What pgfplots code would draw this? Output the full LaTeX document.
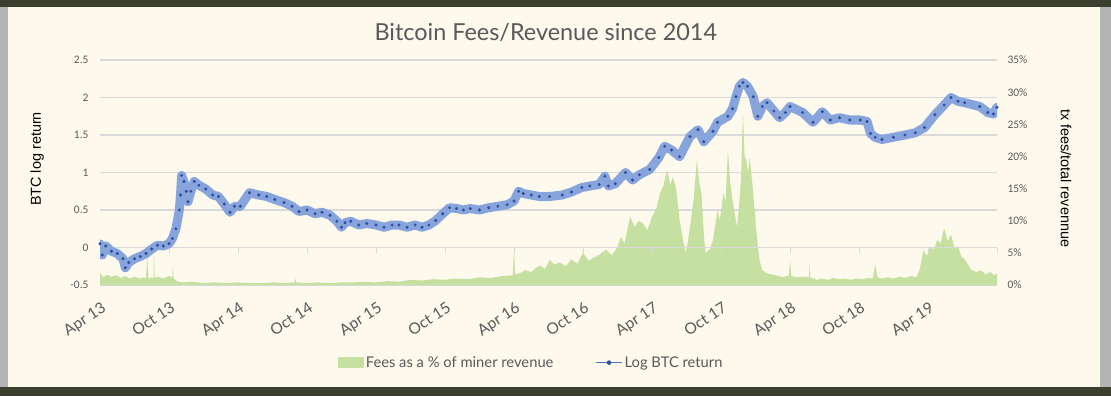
\documentclass[border=0pt]{standalone}
\usepackage{pgfplots}
\pgfplotsset{compat=1.18}
\usepackage{pgfplotstable}
\usepackage{fontspec}
\setmainfont{Carlito}
\newfontfamily\lato{Lato}
\newfontfamily\arial{Liberation Sans}
\definecolor{cream}{HTML}{FDF9EC}
\definecolor{olive}{HTML}{3A3F2E}
\definecolor{sidegray}{HTML}{B4B4B4}
\definecolor{gridgray}{HTML}{D9D9D9}
\definecolor{labgray}{HTML}{595959}
\definecolor{feegreen}{HTML}{C5E0A0}
\definecolor{bandblue}{HTML}{88A4DC}
\definecolor{darkblue}{HTML}{2E4D9C}
\definecolor{legblue}{HTML}{4472C4}

\pgfplotstableread{
m pct
0 1.9
0.3 1.2
0.6 1.6
1.0 1.3
1.4 1.5
1.8 1.1
2.2 1.4
2.6 1.0
3.0 1.3
3.4 1.0
3.8 1.2
4.0 1.0
4.1 4.7
4.2 1.0
4.5 1.2
4.65 1.0
4.7 5.0
4.75 1.1
5.0 1.3
5.5 1.0
6.0 1.4
6.3 1.2
6.35 3.4
6.4 1.0
6.7 0.6
7.2 0.4
8 0.5
9 0.3
10 0.4
11 0.3
12 0.4
13 0.3
14 0.3
15 0.4
16 0.3
16.95 0.4
17 1.1
17.05 0.4
18 0.3
19 0.4
20 0.3
21 0.4
22 0.4
23 0.5
24 0.4
25 0.6
26 0.5
27 0.8
28 0.7
29 0.9
30 0.8
31 1.0
32 0.9
33 1.2
34 1.1
35 1.4
35.9 1.5
36 5.7
36.1 1.6
36.6 1.9
37 2.3
37.5 2.0
38 2.8
38.3 3.0
38.7 2.5
39.1 3.9
39.5 3.2
40 3.5
40.5 2.9
41 4.0
41.5 3.3
42 5.0
42.5 3.8
43 4.3
43.5 4.8
44 5.5
44.5 4.6
45 5.9
45.3 7.5
45.6 6.5
46.1 10.6
46.5 9.0
46.8 10.0
47.2 9.6
47.6 8.5
48 10.6
48.4 12.0
48.7 14.3
49.0 15.5
49.3 17.9
49.6 15.5
49.8 16.8
50.1 15
50.4 10.1
50.7 7.0
50.9 5
51.1 6.5
51.3 9
51.6 13
51.9 19.4
52.1 16
52.3 14.3
52.5 8
52.65 5
53 5.5
53.3 7
53.7 11.7
53.9 10
54.2 14.3
54.4 13
54.6 21
54.8 16
55 13.2
55.2 11
55.4 9
55.6 13
55.75 16.8
55.9 26.8
56.05 20
56.2 19.4
56.35 17.5
56.5 19.9
56.65 17
56.8 14.3
57.0 10
57.2 5.9
57.4 3.5
57.6 2.3
58 1.8
58.5 1.6
59 1.4
59.4 1.2
59.9 1.5
60 3.9
60.1 1.4
60.6 1.2
61.1 1.3
61.65 1.2
61.7 3.4
61.75 1.2
62.3 0.8
62.8 1.0
63.3 0.8
63.8 1.1
64.3 0.9
64.8 1.0
65.3 0.8
65.8 1.0
66.3 0.9
66.8 1.1
67.2 1.0
67.4 3.2
67.6 1.2
68 1.0
68.5 1.2
69 1.0
69.5 1.3
70 1.1
70.5 1.4
71 1.2
71.3 2.5
71.6 5.4
71.9 4.5
72.2 6.0
72.5 5.5
72.8 7.0
73.1 6.5
73.4 8.9
73.7 6.8
74.0 7.8
74.3 5.8
74.6 6.0
74.9 4.4
75.2 4.0
75.5 3.1
75.8 2.3
76.2 2.0
76.6 2.3
77 1.6
77.4 2.0
77.8 1.5
78 1.8
}\fees

\pgfplotstableread{
m v
0 0.05
0.2 -0.1
0.5 0.02
1 -0.05
1.5 -0.08
2 -0.15
2.2 -0.27
2.5 -0.2
3 -0.15
3.5 -0.12
4 -0.08
4.5 -0.02
5 0.03
5.5 0.02
6 0.05
6.3 0.12
6.6 0.25
6.9 0.5
7.0 0.7
7.1 0.96
7.3 0.88
7.5 0.75
7.65 0.61
7.9 0.75
8.2 0.88
8.6 0.83
9.2 0.78
9.8 0.7
10.3 0.68
10.8 0.58
11.3 0.47
11.7 0.55
12.2 0.55
13 0.73
13.8 0.7
14.5 0.68
15.2 0.64
16 0.6
16.7 0.55
17.3 0.48
18 0.5
18.7 0.45
19.3 0.47
20 0.43
20.6 0.35
21 0.27
21.3 0.33
21.8 0.35
22.5 0.3
23.2 0.32
24 0.3
24.7 0.27
25.4 0.3
26 0.3
26.7 0.27
27.4 0.3
28 0.27
28.6 0.3
29.2 0.36
29.8 0.45
30.4 0.53
31 0.52
31.6 0.5
32.2 0.52
33 0.5
33.8 0.53
34.6 0.55
35.4 0.57
36 0.62
36.4 0.75
36.8 0.72
37.5 0.7
38.2 0.68
39.1 0.68
40.2 0.7
41 0.74
41.9 0.8
42.6 0.82
43.4 0.84
43.9 0.95
44.2 0.82
44.8 0.85
45.7 1.0
46.3 0.9
46.9 0.97
47.8 1.04
48.6 1.2
49.1 1.35
49.7 1.3
50.4 1.21
51.3 1.48
52 1.57
52.5 1.41
53.3 1.55
53.7 1.67
54.6 1.75
55 1.85
55.3 2.01
55.6 2.15
55.9 2.2
56.3 2.15
56.8 2.01
57.2 1.75
57.6 1.88
58 1.93
58.6 1.82
59.1 1.73
59.6 1.8
60 1.88
61.1 1.8
62 1.67
62.8 1.81
63.5 1.7
64.3 1.73
65.2 1.7
66.1 1.7
66.7 1.68
67.0 1.52
67.4 1.47
68 1.44
69 1.47
70 1.5
70.9 1.53
71.7 1.6
72.6 1.77
73.4 1.9
74 2.0
74.6 1.95
75.2 1.93
76.5 1.88
77.2 1.8
77.7 1.78
78 1.87
}\btc

\begin{document}
\begin{tikzpicture}[x=1bp,y=1bp]
\useasboundingbox (0,0) rectangle (1111,396);
\fill[sidegray] (0,0) rectangle (1111,396);
\fill[cream] (8,9) rectangle (1100,389);
\fill[olive] (0,389) rectangle (1111,396);
\fill[olive] (0,0) rectangle (1111,9);

% Axis A: grid, left ticks, x labels, title
\begin{axis}[at={(100bp,111bp)}, anchor=south west, width=897bp, height=225bp, scale only axis,
  xmin=0, xmax=78, ymin=-0.5, ymax=2.5,
  axis line style={draw=none},
  ytick={-0.5,0,0.5,1,1.5,2,2.5},
  yticklabels={-0.5,0,0.5,1,1.5,2,2.5},
  ymajorgrids, grid style={color=gridgray, line width=1.3bp},
  major tick length=0pt,
  xtick={0,6,...,72},
  xticklabels={Apr 13,Oct 13,Apr 14,Oct 14,Apr 15,Oct 15,Apr 16,Oct 16,Apr 17,Oct 17,Apr 18,Oct 18,Apr 19},
  xticklabel style={font=\lato\fontsize{15.5}{16}\selectfont, color=labgray, rotate=33, anchor=north east, inner sep=1bp, yshift=-13bp, xshift=-7bp},
  yticklabel style={font=\fontsize{11.5}{12}\selectfont, color=labgray, xshift=-8bp},
  ylabel={BTC log return},
  ylabel style={at={(axis description cs:-0.07,0.56)}, anchor=center, rotate=0, font=\arial\fontsize{14.5}{15}\selectfont, color=black},
  title={Bitcoin Fees/Revenue since 2014},
  title style={at={(axis description cs:0.497,1.098)}, anchor=center, font=\lato\fontsize{23.5}{24}\selectfont, color=labgray},
]
\end{axis}

% Axis B: green area, right axis
\begin{axis}[at={(100bp,111bp)}, anchor=south west, width=897bp, height=225bp, scale only axis,
  xmin=0, xmax=78, ymin=0, ymax=35,
  axis line style={draw=none},
  xtick=\empty,
  ytick={0,5,10,15,20,25,30,35},
  yticklabels={0\%,5\%,10\%,15\%,20\%,25\%,30\%,35\%},
  yticklabel pos=right,
  major tick length=0pt,
  yticklabel style={font=\fontsize{11.5}{12}\selectfont, color=labgray, xshift=7bp},
  ylabel={tx fees/total revennue},
  ylabel style={at={(axis description cs:1.077,0.475)}, anchor=center, rotate=180, font=\arial\fontsize{14.5}{15}\selectfont, color=black},
]
\addplot[fill=feegreen, draw=none] table[x=m, y=pct] {\fees} \closedcycle;
\end{axis}

% Axis C: zero line, blue series, legend
\begin{axis}[at={(100bp,111bp)}, anchor=south west, width=897bp, height=225bp, scale only axis,
  xmin=0, xmax=78, ymin=-0.5, ymax=2.5,
  axis x line*=middle, axis y line=none,
  x axis line style={color=gridgray, line width=1.3bp},
  xtick={0,6,...,78}, xticklabels=\empty,
  hide obscured x ticks=false,
  tick align=outside, major tick length=5bp,
  tick style={color=gridgray, line width=1bp},
  legend style={at={(0.481,-0.345)}, anchor=center, draw=none, fill=none,
    legend columns=2, font=\lato\fontsize{14.8}{15}\selectfont, text=labgray,
    /tikz/every even column/.append style={column sep=40bp}},
]
\addlegendimage{legend image code/.code={\fill[feegreen] (0bp,-5bp) rectangle (25bp,5bp);}}
\addlegendentry{Fees as a \% of miner revenue}
\addlegendimage{legend image code/.code={\draw[legblue, line width=1.2bp] (0bp,0bp) -- (26bp,0bp); \fill[darkblue] (13bp,0bp) circle (2bp);}}
\addlegendentry{Log BTC return}
\addplot[forget plot, color=bandblue, line width=9bp, line join=round, line cap=round] table[x=m, y=v] {\btc};
\addplot[forget plot, only marks, mark=*, mark size=1.3bp, color=darkblue, mark options={fill=darkblue, draw=none}] table[x=m, y=v] {\btc};
\end{axis}
\end{tikzpicture}
\end{document}
